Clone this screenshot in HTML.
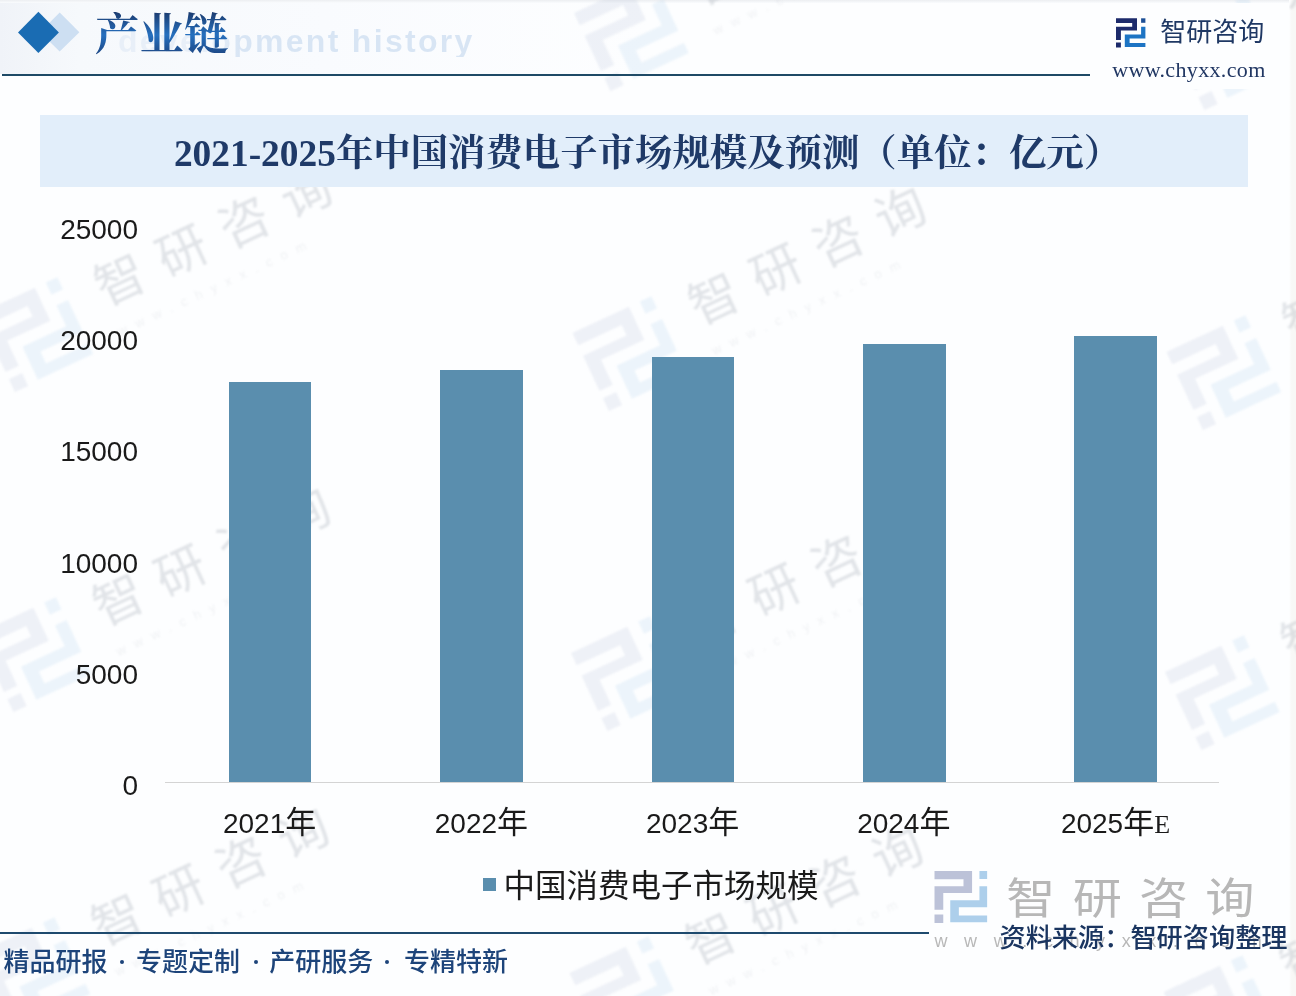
<!DOCTYPE html>
<html lang="zh-CN">
<head>
<meta charset="utf-8">
<title>2021-2025年中国消费电子市场规模及预测（单位：亿元）</title>
<style>
html,body{margin:0;padding:0;}
body{width:1296px;height:996px;overflow:hidden;background:#fdfeff;font-family:"Liberation Sans",sans-serif;position:relative;}
.abs{position:absolute;}
#card{left:0;top:0;width:1296px;height:996px;background:#fdfeff;overflow:hidden;}
#hdrbg{left:0;top:0;width:1296px;height:74px;background:linear-gradient(90deg,#f0f3f8 0%,#f6f9fc 6%,#f9fbfe 25%,#fdfeff 50%,#fdfeff 100%);}
#rightband{left:1289px;top:0;width:7px;height:996px;background:linear-gradient(90deg,#fdfeff,#f8f8f6 40%,#f8f8f6);}
#topband{left:0;top:0;width:1296px;height:3px;background:linear-gradient(180deg,#eceef1,#fafcfe);}
#hline{left:2px;top:73.6px;width:1088px;height:2.2px;background:#1e4a66;}
#dh{left:118px;top:25.4px;font:bold 32px/1 "Liberation Sans",sans-serif;color:transparent;background:linear-gradient(90deg,#e8eff8 0,#e8eff8 26%,#d8e5f4 34%,#d8e5f4 100%);-webkit-background-clip:text;background-clip:text;letter-spacing:2.3px;white-space:nowrap;filter:blur(0.7px);}
#banner{left:40px;top:115px;width:1208px;height:72px;background:#e2eefa;}
.bar{position:absolute;width:82.8px;background:#5a8eae;}
#axis{left:164.5px;top:781.5px;width:1054.5px;height:1px;background:#d4d4d4;}
#lg{left:483px;top:878.3px;width:12.6px;height:12.6px;background:#5a8eae;}
#fline{left:0;top:931.6px;width:929px;height:2.2px;background:#1e4a6e;}
.dot{position:absolute;width:4.2px;height:4.2px;border-radius:50%;background:#1d447a;top:959.8px;margin-left:-0.4px}
#wurl{left:934.5px;top:930.7px;width:340px;font:18px "Liberation Sans",sans-serif;color:#b8b8b8;white-space:nowrap;letter-spacing:16.6px;filter:blur(0.4px);}
svg{position:absolute;left:0;top:0;overflow:visible;}
</style>
</head>
<body>
<div id="card" class="abs">
  <div id="hdrbg" class="abs"></div>
  <div id="topband" class="abs"></div>
  <div id="rightband" class="abs"></div>

  <!-- diagonal watermarks -->
  <svg style="filter:blur(0.9px)" width="1296" height="996" viewBox="0 0 1296 996" aria-hidden="true">
    <defs>
      <g id="wm">
        <g transform="scale(2.96)" opacity="0.2">
          <path fill="#b4bcd6" d="M0 0H21V12.3H16.2V4.6H0Z M0 8.5H16.2V12.3H4.9V21.6H0Z M0 24.3H4.9V29.1H0Z"/>
          <path fill="#a9cdea" d="M25.1 8.5H29.4V20.3H13.6V24.8H29.4V28.6H8.8V16.3H25.1Z M25.1 0H29.4V4.5H25.1Z"/>
        </g>
        <text x="117.7" y="47" font-family="'Liberation Sans','Noto Sans CJK SC',sans-serif" font-size="50" letter-spacing="18.5" fill="#8f97a3" opacity="0.25">智研咨询</text>
        <text x="119" y="80" font-family="Liberation Sans, sans-serif" font-size="13" letter-spacing="9.5" fill="#8f97a3" opacity="0.12">www.chyxx.com</text>
      </g>
    </defs>
    <use href="#wm" transform="translate(574.0 13.0) rotate(-25)"/>
    <use href="#wm" transform="translate(1168.0 32.0) rotate(-25)"/>
    <use href="#wm" transform="translate(-21.5 314.0) rotate(-25)"/>
    <use href="#wm" transform="translate(572.5 333.0) rotate(-25)"/>
    <use href="#wm" transform="translate(1166.5 352.0) rotate(-25)"/>
    <use href="#wm" transform="translate(-23.0 634.0) rotate(-25)"/>
    <use href="#wm" transform="translate(571.0 653.0) rotate(-25)"/>
    <use href="#wm" transform="translate(1165.0 672.0) rotate(-25)"/>
    <use href="#wm" transform="translate(-24.5 954.0) rotate(-25)"/>
    <use href="#wm" transform="translate(569.5 973.0) rotate(-25)"/>
    <use href="#wm" transform="translate(1163.5 992.0) rotate(-25)"/>
  </svg>

  <!-- header -->
  <div class="abs" style="left:1098px;top:3px;width:191px;height:86px;background:#fdfeff"></div>
  <div id="dh" class="abs">development history</div>
  <div id="hline" class="abs"></div>

  <!-- title banner -->
  <div id="banner" class="abs"></div>

  <!-- chart -->
  <div class="bar" style="left:228.6px;top:382.3px;height:399.7px"></div>
  <div class="bar" style="left:440.3px;top:370.3px;height:411.7px"></div>
  <div class="bar" style="left:651.7px;top:356.6px;height:425.4px"></div>
  <div class="bar" style="left:862.8px;top:344.2px;height:437.8px"></div>
  <div class="bar" style="left:1074.3px;top:336.1px;height:445.9px"></div>
  <div id="axis" class="abs"></div>
  <div id="lg" class="abs"></div>

  <!-- footer -->
  <div id="fline" class="abs"></div>
  <div class="dot" style="left:120.7px"></div>
  <div class="dot" style="left:254.3px"></div>
  <div class="dot" style="left:385.5px"></div>
  <div id="wurl" class="abs">www.chyxx.com</div>

  <!-- vector overlay: shapes, logo and text -->
  <svg style="filter:blur(0.4px)" width="1296" height="996" viewBox="0 0 1296 996" role="img" aria-label="2021-2025年中国消费电子市场规模及预测（单位：亿元）">
    <defs>
      <linearGradient id="hg" x1="0" y1="0" x2="0" y2="1" gradientUnits="objectBoundingBox">
        <stop offset="0" stop-color="#1b3768"/><stop offset="0.5" stop-color="#2670bf"/><stop offset="1" stop-color="#1b3c74"/>
      </linearGradient>
    </defs>
    <!-- diamonds -->
    <path d="M59.7 12.6L79.4 32.2L59.7 51.4L40 32.2Z" fill="#cddff2"/>
    <path d="M38.4 11.8L58.9 32.4L38.4 53.1L18 32.4Z" fill="#1a6cb3"/>
    <!-- top-right logo -->
    <g transform="translate(1116 18.3)">
      <path fill="#1c2a6b" d="M0 0H21V12.3H16.2V4.6H0Z M0 8.5H16.2V12.3H4.9V21.6H0Z M0 24.3H4.9V29.1H0Z"/>
      <path fill="#1d74c4" d="M25.1 8.5H29.4V20.3H13.6V24.8H29.4V28.6H8.8V16.3H25.1Z"/>
      <path fill="#1c4f96" d="M25.1 0H29.4V4.5H25.1Z"/>
    </g>
    <!-- big bottom-right watermark logo -->
    <g transform="translate(934.5 871) scale(1.79)" opacity="0.95">
      <path fill="#b9bfd6" d="M0 0H21V12.3H16.2V4.6H0Z M0 8.5H16.2V12.3H4.9V21.6H0Z M0 24.3H4.9V29.1H0Z"/>
      <path fill="#a9cdea" d="M25.1 8.5H29.4V20.3H13.6V24.8H29.4V28.6H8.8V16.3H25.1Z M25.1 0H29.4V4.5H25.1Z"/>
    </g>
    <text transform="translate(1006.3 914.3) scale(1.07 0.94)" x="0" y="0" font-family="'Liberation Sans','Noto Sans CJK SC',sans-serif" font-size="46" letter-spacing="16" fill="#b7b7b7">智研咨询</text>

    <!-- y axis labels -->
    <g font-family="'Liberation Sans','Noto Sans CJK SC',sans-serif" font-size="28" fill="#1a1a1a" text-anchor="end">
      <text x="138" y="794.9">0</text>
      <text x="138" y="683.7">5000</text>
      <text x="138" y="572.5">10000</text>
      <text x="138" y="461.3">15000</text>
      <text x="138" y="350.1">20000</text>
      <text x="138" y="238.9">25000</text>
    </g>

    <!-- x axis labels -->
    <g font-family="'Liberation Sans','Noto Sans CJK SC',sans-serif" font-size="28" fill="#1a1a1a" text-anchor="middle">
      <text x="269.6" y="833.15">2021<tspan font-size="31">年</tspan></text>
      <text x="481.4" y="833.15">2022<tspan font-size="31">年</tspan></text>
      <text x="692.6" y="833.15">2023<tspan font-size="31">年</tspan></text>
      <text x="903.8" y="833.15">2024<tspan font-size="31">年</tspan></text>
      <text x="1115.5" y="833.15">2025<tspan font-size="31">年</tspan><tspan font-family="'Liberation Serif',serif" font-size="26">E</tspan></text>
    </g>

    <!-- legend label -->
    <text x="503.5" y="896.66" font-family="'Liberation Sans','Noto Sans CJK SC',sans-serif" font-size="31.5" fill="#1a1a1a">中国消费电子市场规模</text>

    <!-- chart title -->
    <text x="647.5" y="165.71" text-anchor="middle" font-family="'Liberation Serif','Noto Serif CJK SC',serif" font-size="37.4" font-weight="bold" fill="#1f3a68">2021-2025年中国消费电子市场规模及预测（单位：亿元）</text>

    <!-- header title -->
    <text x="95" y="49.92" font-family="'Liberation Serif','Noto Serif CJK SC',serif" font-size="44.5" font-weight="bold" fill="url(#hg)">产业链</text>

    <!-- top-right brand -->
    <text x="1160.3" y="40.59" font-family="'Liberation Sans','Noto Sans CJK SC',sans-serif" font-size="26" fill="#1f3864">智研咨询</text>

    <!-- footer slogans -->
    <g font-family="'Liberation Sans','Noto Sans CJK SC',sans-serif" font-size="26" font-weight="500" fill="#1d447a">
      <text x="3.5" y="971.38">精品研报</text>
      <text x="136" y="971.38">专题定制</text>
      <text x="269.3" y="971.38">产研服务</text>
      <text x="404" y="971.38">专精特新</text>
    </g>

    <!-- source -->
    <text x="999.5" y="947.29" font-family="'Liberation Sans','Noto Sans CJK SC',sans-serif" font-size="26.2" font-weight="500" fill="#1a3560">资料来源：智研咨询整理</text>

    <!-- url -->
    <text x="1112.2" y="77.3" font-family="'Liberation Serif',serif" font-size="22" letter-spacing="0.35" fill="#213763">www.chyxx.com</text>
  </svg>
</div>
</body>
</html>
